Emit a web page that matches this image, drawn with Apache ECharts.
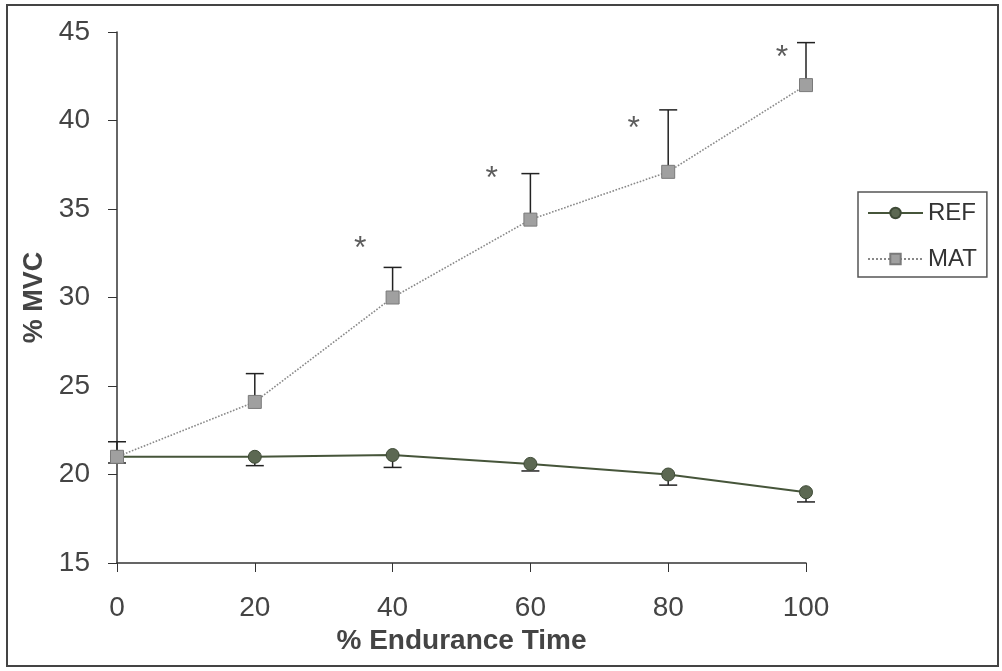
<!DOCTYPE html>
<html>
<head>
    <meta charset="UTF-8">
    <title>% MVC vs % Endurance Time</title>
    <script src="https://cdn.jsdelivr.net/npm/echarts@6/dist/echarts.min.js"></script>
    <style>
        html, body { margin: 0; padding: 0; background: #fff; }
        #chart { width: 1002px; height: 671px; }
    </style>
</head>
<body>
<div id="chart"></div>
<script>
    // data
    var timePct = [0, 20, 40, 60, 80, 100];
    var refMean = [21.0, 21.0, 21.1, 20.6, 20.0, 19.0];
    var refErr = [0.35, 0.5, 0.7, 0.4, 0.6, 0.55];   // drawn downward
    var matMean = [21.0, 24.1, 30.0, 34.4, 37.1, 42.0];
    var matErr = [0.85, 1.6, 1.7, 2.6, 3.5, 2.4];     // drawn upward
    var starX = [35.3, 54.4, 75.0, 96.5];
    var starY = [33.1, 37.1, 39.9, 43.9];

    var font = 'Liberation Sans, Arial, sans-serif';

    function pairs(xs, ys) {
        return xs.map(function (x, i) { return [x, ys[i]]; });
    }

    // error bar rows: x, mean, end of bar
    function errData(means, errs, dir) {
        return timePct.map(function (x, i) { return [x, means[i], means[i] + dir * errs[i]]; });
    }

    function renderErr(params, api) {
        var p0 = api.coord([api.value(0), api.value(1)]);
        var p1 = api.coord([api.value(0), api.value(2)]);
        var half = 9;
        var st = { stroke: '#222', lineWidth: 1.5 };
        return {
            type: 'group',
            children: [
                { type: 'line', shape: { x1: p0[0], y1: p0[1], x2: p1[0], y2: p1[1] }, style: st },
                { type: 'line', shape: { x1: p1[0] - half, y1: p1[1], x2: p1[0] + half, y2: p1[1] }, style: st }
            ]
        };
    }

    var myChart = echarts.init(document.getElementById('chart'));

    var option = {
        backgroundColor: '#fff',
        animation: false,
        grid: { left: 117, right: 196, top: 32, bottom: 108 },
        graphic: [{
            type: 'rect',
            shape: { x: 7, y: 5, width: 991, height: 661 },
            style: { fill: 'none', stroke: '#444', lineWidth: 2 },
            silent: true
        }],
        legend: {
            orient: 'vertical',
            left: 858,
            top: 192,
            padding: [9, 10, 6, 9],
            itemGap: 22,
            itemWidth: 55,
            itemHeight: 13,
            borderColor: '#555',
            borderWidth: 1.5,
            textStyle: { fontFamily: font, fontSize: 24, color: '#333' },
            data: ['REF', 'MAT']
        },
        xAxis: {
            type: 'value',
            min: 0,
            max: 100,
            interval: 20,
            name: '% Endurance Time',
            nameLocation: 'middle',
            nameGap: 62,
            nameTextStyle: { fontFamily: font, fontSize: 28, fontWeight: 'bold', color: '#444' },
            axisLine: { lineStyle: { color: '#333', width: 1.5 } },
            axisTick: { show: true, length: 9, lineStyle: { color: '#333' } },
            axisLabel: { margin: 31, fontFamily: font, fontSize: 28, color: '#444' },
            splitLine: { show: false }
        },
        yAxis: {
            type: 'value',
            min: 15,
            max: 45,
            interval: 5,
            name: '% MVC',
            nameLocation: 'middle',
            nameGap: 66,
            nameRotate: 90,
            nameTextStyle: { fontFamily: font, fontSize: 27, fontWeight: 'bold', color: '#444' },
            axisLine: { show: true, lineStyle: { color: '#333', width: 1.5 } },
            axisTick: { show: true, length: 9, lineStyle: { color: '#333' } },
            axisLabel: { margin: 27, fontFamily: font, fontSize: 28, color: '#444' },
            splitLine: { show: false }
        },
        series: [
            {
                name: 'REF',
                type: 'line',
                data: pairs(timePct, refMean),
                symbol: 'circle',
                symbolSize: 13,
                lineStyle: { color: '#46553a', width: 2 },
                itemStyle: { color: '#5c6852', borderColor: '#3e4a36', borderWidth: 1 },
                z: 3
            },
            {
                name: 'MAT',
                type: 'line',
                data: pairs(timePct, matMean),
                symbol: 'rect',
                symbolSize: 13,
                lineStyle: { color: '#888', width: 1.6, type: 'dotted' },
                itemStyle: { color: '#a0a0a0', borderColor: '#7a7a7a', borderWidth: 1 },
                z: 3
            },
            {
                name: 'REF err',
                type: 'custom',
                renderItem: renderErr,
                data: errData(refMean, refErr, -1),
                encode: { x: 0, y: [1, 2] },
                z: 2
            },
            {
                name: 'MAT err',
                type: 'custom',
                renderItem: renderErr,
                data: errData(matMean, matErr, 1),
                encode: { x: 0, y: [1, 2] },
                z: 2
            },
            {
                name: 'sig',
                type: 'scatter',
                data: pairs(starX, starY),
                symbolSize: 1,
                itemStyle: { color: 'rgba(0,0,0,0)' },
                label: {
                    show: true,
                    position: 'inside',
                    offset: [0, 7],
                    formatter: '*',
                    fontFamily: font,
                    fontSize: 32,
                    color: '#333'
                }
            }
        ]
    };
    myChart.setOption(option);
</script>
</body>
</html>
